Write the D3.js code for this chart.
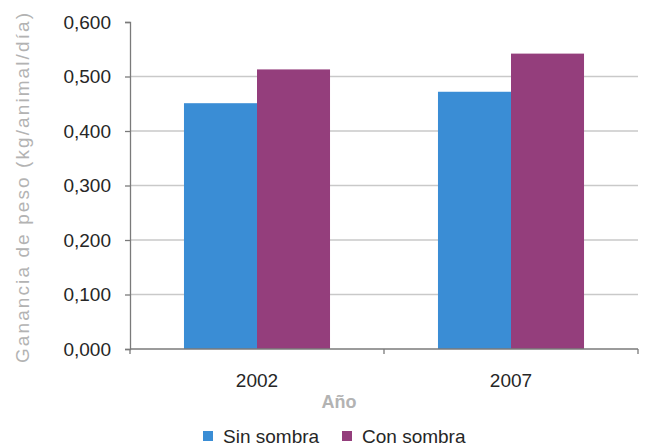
<!DOCTYPE html>
<html>
<head>
<meta charset="utf-8">
<script src="https://cdn.jsdelivr.net/npm/d3@7"></script>
<style>
  body { margin: 0; background: #fff; }
  svg { display: block; font-family: "Liberation Sans", Arial, sans-serif; }
</style>
</head>
<body>
<svg id="chart" width="647" height="448"></svg>
<script>
const categories = ["2002", "2007"];
const seriesNames = ["Sin sombra", "Con sombra"];
const sinSombra = [0.451, 0.472];
const conSombra = [0.513, 0.542];
const yTicks = [0, 0.1, 0.2, 0.3, 0.4, 0.5, 0.6];
const colors = ["#3a8dd5", "#943e7c"];

const svg = d3.select("#chart");
const margin = {left: 130, right: 9, top: 22, bottom: 99};
const W = 647, H = 448;

const x0 = d3.scaleBand().domain(categories)
  .range([margin.left, W - margin.right])
  .paddingInner(0.425).paddingOuter(0.2125);
const x1 = d3.scaleBand().domain(seriesNames).range([0, x0.bandwidth()]).padding(0);
const y = d3.scaleLinear().domain([0, 0.6]).range([H - margin.bottom, margin.top]);
const color = d3.scaleOrdinal().domain(seriesNames).range(colors);

const fmt = v => d3.format(".3f")(v).replace(".", ",");

// gridlines
svg.append("g").selectAll("line")
  .data(yTicks.filter(t => t > 0 && t < 0.6))
  .join("line")
  .attr("x1", margin.left).attr("x2", W - margin.right)
  .attr("y1", d => y(d)).attr("y2", d => y(d))
  .attr("stroke", "#c9c9c9").attr("stroke-width", 1.3);

// bars
const table = categories.map((c, i) => ({cat: c, vals: [sinSombra[i], conSombra[i]]}));
svg.append("g").selectAll("g")
  .data(table).join("g")
  .attr("transform", d => `translate(${x0(d.cat)},0)`)
  .selectAll("rect")
  .data(d => d.vals.map((v, j) => ({name: seriesNames[j], v})))
  .join("rect")
  .attr("x", d => x1(d.name))
  .attr("y", d => y(d.v))
  .attr("width", x1.bandwidth())
  .attr("height", d => y(0) - y(d.v))
  .attr("fill", d => color(d.name));

// y axis
const yAxis = d3.axisLeft(y).tickValues(yTicks).tickFormat(fmt).tickSize(5).tickPadding(14);
const gy = svg.append("g").attr("transform", `translate(${margin.left},0)`).call(yAxis);
gy.select(".domain").attr("stroke", "#7a7a7a").attr("stroke-width", 1.3);
gy.selectAll(".tick line").attr("stroke", "#7a7a7a").attr("stroke-width", 1.3);
gy.selectAll(".tick text").attr("font-size", 19).attr("fill", "#262626")
  .attr("font-family", "'Liberation Sans', Arial, sans-serif");

// x axis
const xAxisG = svg.append("g").attr("transform", `translate(0,${y(0)})`);
xAxisG.append("line")
  .attr("x1", margin.left).attr("x2", W - margin.right)
  .attr("stroke", "#7a7a7a").attr("stroke-width", 1.6);
const boundaries = [x0.range()[0], (x0.range()[0] + x0.range()[1]) / 2, x0.range()[1]];
xAxisG.selectAll("line.tk").data(boundaries).join("line").attr("class", "tk")
  .attr("x1", d => d).attr("x2", d => d).attr("y1", 0).attr("y2", 5)
  .attr("stroke", "#7a7a7a").attr("stroke-width", 1.3);
xAxisG.selectAll("text").data(categories).join("text")
  .attr("x", d => x0(d) + x0.bandwidth() / 2)
  .attr("y", 38)
  .attr("text-anchor", "middle")
  .attr("font-size", 19).attr("fill", "#262626")
  .text(d => d);

// axis titles
svg.append("text")
  .attr("x", 339).attr("y", 408)
  .attr("text-anchor", "middle")
  .attr("font-size", 18).attr("font-weight", "bold").attr("fill", "#b3b3b3")
  .text("Año");

svg.append("text")
  .attr("transform", "translate(29,188) rotate(-90)")
  .attr("text-anchor", "middle")
  .attr("font-size", 19).attr("fill", "#b3b3b3")
  .attr("textLength", 350).attr("lengthAdjust", "spacing")
  .text("Ganancia de peso (kg/animal/día)");

// legend
const legendItems = [{name: seriesNames[0], sx: 203, tx: 223}, {name: seriesNames[1], sx: 342, tx: 362}];
const lg = svg.append("g");
lg.selectAll("rect").data(legendItems).join("rect")
  .attr("x", d => d.sx).attr("y", 431).attr("width", 10).attr("height", 10)
  .attr("fill", d => color(d.name));
lg.selectAll("text").data(legendItems).join("text")
  .attr("x", d => d.tx).attr("y", 443)
  .attr("font-size", 19).attr("fill", "#262626")
  .text(d => d.name);
</script>
</body>
</html>
